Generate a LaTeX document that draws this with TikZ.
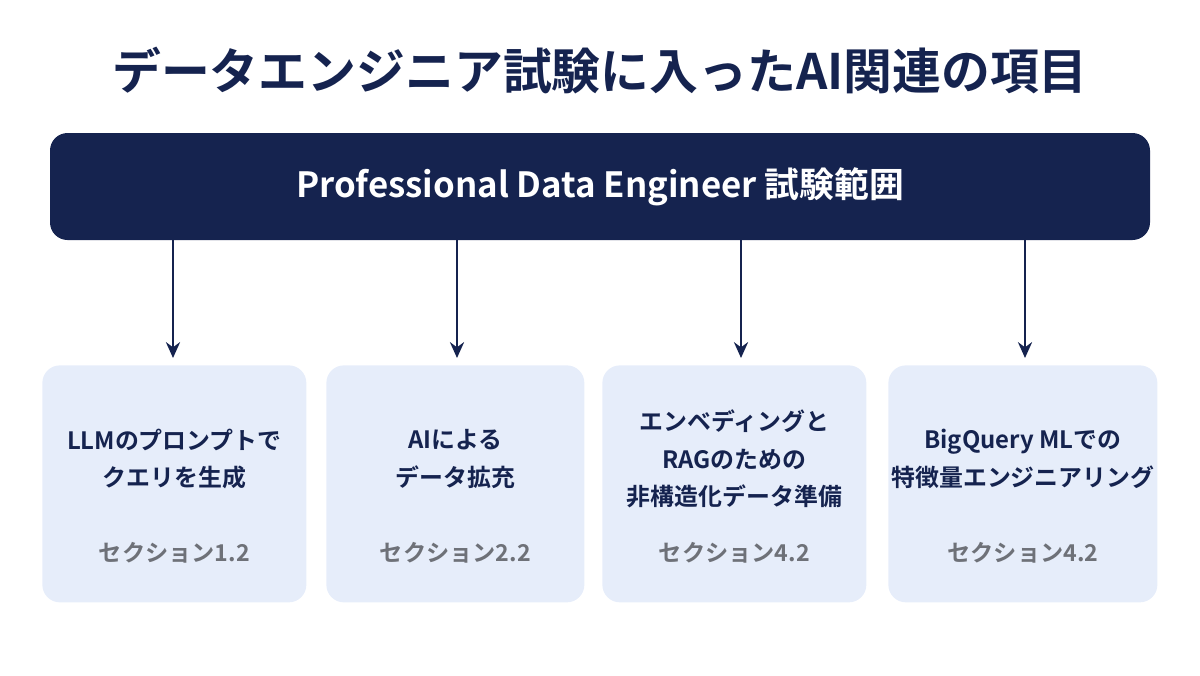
\documentclass[tikz,border=0pt]{standalone}
\usepackage{fontspec}
\setmainfont{Noto Sans CJK JP}[BoldFont={Noto Sans CJK JP Bold}]
\usetikzlibrary{positioning,arrows.meta}
\definecolor{navy}{HTML}{15234F}
\definecolor{paleblue}{HTML}{E6EDFA}
\definecolor{secgray}{HTML}{6E7178}
\tikzset{
banner/.style = {
     draw=none, fill=navy, rounded corners=10pt,
     minimum width=22cm, minimum height=2.14cm,
     text=white, font=\bfseries\fontsize{19.8}{24}\selectfont
   },
topic box/.style = {
     draw=none, fill=paleblue, rounded corners=10pt,
     minimum height=4.74cm, anchor=north west
   },
topic/.style = {
     text=navy, align=center, font=\bfseries\fontsize{13.6}{21.5}\selectfont
   },
section/.style = {
     text=secgray, font=\bfseries\fontsize{13.2}{16}\selectfont
   },
link/.style = {
     -{Stealth[length=9pt,width=8pt]}, line width=1.6pt, draw=navy
   }
}
\begin{document}
\begin{tikzpicture}
\useasboundingbox (0,0) rectangle (24,-13.5);
\node[text=navy, font=\bfseries\fontsize{27.8}{34}\selectfont] (title) at (12,-1.42) {データエンジニア試験に入ったAI関連の項目};
\node[banner] (exam) at (12,-3.73) {Professional Data Engineer 試験範囲};
% boxes: name / left / width / text / section / arrow x
\foreach \name/\lx/\bw/\txt/\sec/\ax in {
  llm/0.84/5.28/{LLMのプロンプトで\\クエリを生成}/{セクション1.2}/3.46,
  aug/6.52/5.16/{AIによる\\データ拡充}/{セクション2.2}/9.14,
  rag/12.04/5.28/{エンベディングと\\RAGのための\\非構造化データ準備}/{セクション4.2}/14.82,
  bqml/17.76/5.38/{BigQuery MLでの\\特徴量エンジニアリング}/{セクション4.2}/20.5} {
   \node[topic box, minimum width=\bw cm] (\name) at (\lx,-7.3) {};
   \node[topic] (\name-text) at ([yshift=-1.88cm]\name.north) {\txt};
   \node[section] (\name-sec) at ([yshift=-3.76cm]\name.north) {\sec};
   \coordinate (\name-top) at (\ax,-7.16);
   \draw[link] (exam.south -| \name-top) -- (\name-top);
}
\end{tikzpicture}
\end{document}
